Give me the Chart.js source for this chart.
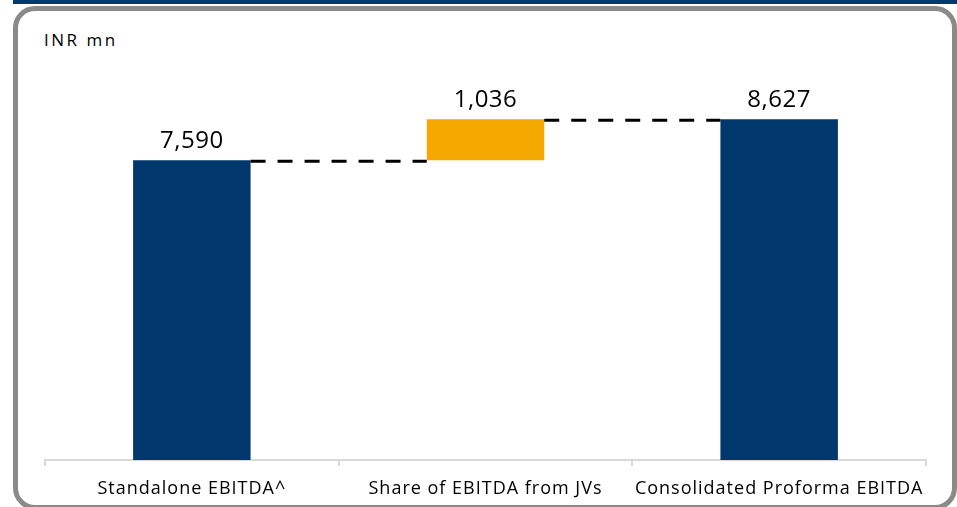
<!DOCTYPE html>
<html>
<head>
<meta charset="utf-8">
<script src="https://cdn.jsdelivr.net/npm/chart.js@4.4.0/dist/chart.umd.min.js"></script>
<style>
  html, body { margin: 0; padding: 0; background: #fff; }
  #wrap { position: relative; width: 957px; height: 507px; overflow: hidden; }
  #band { position: absolute; left: 13px; top: 0; width: 944px; height: 4px; background: #003a70; }
  #frame { position: absolute; left: 13px; top: 6px; width: 934px; height: 494px;
           border: 5px solid #8a8a8a; border-radius: 22px; }
  #unit { position: absolute; left: 44px; top: 28px; font: 17px "Open Sans", sans-serif;
          letter-spacing: 2.5px; color: #000; }
  canvas { position: absolute; left: 0; top: 0; }
</style>
</head>
<body>
<div id="wrap">
  <div id="band"></div>
  <div id="frame"></div>
  <div id="unit">INR mn</div>
  <canvas id="chart-waterfall" width="957" height="507"></canvas>
</div>
<script>
var categories = ['Standalone EBITDA^', 'Share of EBITDA from JVs', 'Consolidated Proforma EBITDA'];
var barStarts = [0, 7590, 0];
var barEnds = [7590, 8626, 8627];
var valueLabels = ['7,590', '1,036', '8,627'];
var barColors = ["#00386e", "#f5a800", "#00386e"];

var floatingData = categories.map(function (c, i) {
  return [barStarts[i], barEnds[i]];
});

var waterfallExtras = {
  id: 'waterfallExtras',
  beforeDraw: function (chart) {
    // wider letter spacing for the axis labels, like the original
    chart.ctx.letterSpacing = '1px';
  },
  afterDatasetsDraw: function (chart) {
    var ctx = chart.ctx;
    var meta = chart.getDatasetMeta(0);
    var y = chart.scales.y;

    // dashed connectors
    ctx.save();
    ctx.strokeStyle = '#000';
    ctx.lineWidth = 3;
    ctx.setLineDash([15, 12]);
    for (var i = 0; i < meta.data.length - 1; i++) {
      var a = meta.data[i], b = meta.data[i + 1];
      var py = y.getPixelForValue(barEnds[i]);
      ctx.beginPath();
      ctx.moveTo(a.x + a.width / 2, py + 1);
      ctx.lineTo(b.x - b.width / 2, py + 1);
      ctx.stroke();
    }
    ctx.restore();

    // value labels
    ctx.save();
    ctx.fillStyle = '#000';
    ctx.font = '24px "Open Sans", sans-serif';
    ctx.letterSpacing = '0.5px';
    ctx.textAlign = 'center';
    ctx.textBaseline = 'alphabetic';
    meta.data.forEach(function (bar, i) {
      var top = Math.min(bar.y, bar.base);
      ctx.fillText(valueLabels[i], bar.x, top - 12);
    });
    ctx.restore();
  }
};

var waterfall = document.getElementById("chart-waterfall").getContext("2d");

var myChart = new Chart(waterfall, {
  type: 'bar',
  data: {
    labels: categories,
    datasets: [{
      label: '',
      data: floatingData,
      backgroundColor: barColors,
      borderWidth: 0,
      barPercentage: 0.4,
      categoryPercentage: 1.0
    }]
  },
  options: {
    responsive: false,
    animation: false,
    layout: {
      padding: { left: 45, right: 31, top: 65, bottom: 0 }
    },
    plugins: {
      legend: { display: false },
      tooltip: { enabled: false }
    },
    scales: {
      x: {
        grid: {
          drawOnChartArea: false,
          color: '#d9d9d9',
          tickLength: 6,
          lineWidth: 2
        },
        border: { color: '#d9d9d9', width: 2 },
        ticks: {
          color: '#000',
          padding: 12,
          maxRotation: 0,
          autoSkip: false,
          font: { family: 'Open Sans', size: 18 }
        },
        afterFit: function (scale) { scale.height = 47; }
      },
      y: {
        display: false,
        min: 0,
        max: 10000
      }
    }
  },
  plugins: [waterfallExtras]
});
</script>
</body>
</html>
